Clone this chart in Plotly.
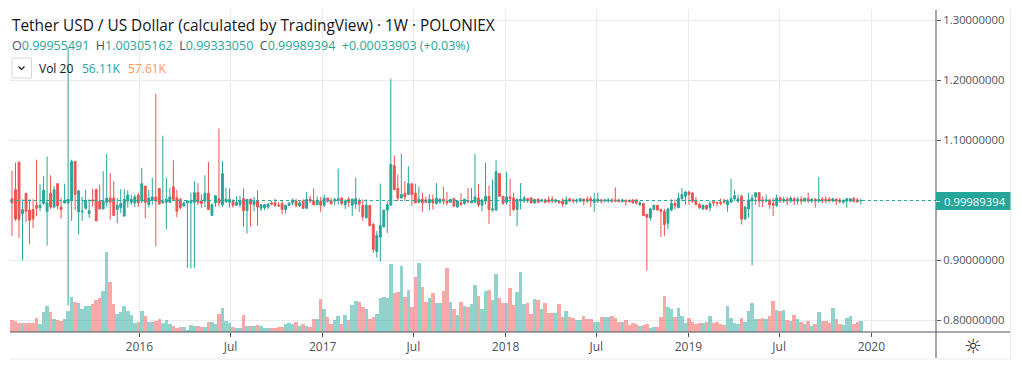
import pandas as pd
import plotly.graph_objects as go

WEEK_COUNT = 243
first_week = "2015-04-22"
title_text = "Tether USD / US Dollar (calculated by TradingView) · 1W · POLONIEX"
price_ticks = [0.8, 0.9, 1.0, 1.1, 1.2, 1.3]
time_ticks = ["2016-01-01", "2016-07-01", "2017-01-01", "2017-07-01", "2018-01-01", "2018-07-01", "2019-01-01", "2019-07-01", "2020-01-01"]
time_labels = ["2016", "Jul", "2017", "Jul", "2018", "Jul", "2019", "Jul", "2020"]

opens = [
1.003,1.018,1.064,.978,1.012,.984,.985,.992,.988,.995,
.982,1.012,.989,1.028,.989,.996,.996,1.000,1.065,.981,
.981,.987,.978,1.001,1.018,.999,.986,.997,1.004,1.004,
.985,.988,.974,.999,.997,.996,1.009,.999,1.024,.993,
1.000,1.006,1.020,.996,.997,.997,1.023,1.004,1.002,.991,
.996,.996,.997,1.013,.999,.999,1.012,.975,.996,1.003,
.993,.998,.997,.999,.992,.993,1.003,.983,1.002,.993,
1.000,.987,.988,.989,.996,.996,.992,.995,.985,.992,
.996,.999,.991,.999,.987,1.002,.999,.993,.999,.992,
1.004,.999,.999,1.000,1.004,.993,1.002,.992,.994,.999,
.992,.971,.992,.960,.915,.939,.956,.984,.992,1.058,
1.020,1.004,1.012,1.010,1.028,1.012,.997,1.002,1.001,.996,
1.002,.995,.997,1.002,.999,.997,1.003,.989,.996,.995,
1.000,.996,.997,1.004,.992,.999,1.007,.984,.984,1.045,
1.007,.997,1.006,1.004,.985,.999,.999,1.003,1.004,.996,
1.002,.999,1.001,1.001,1.002,.998,.999,.999,.994,1.003,
1.001,.999,.999,1.002,1.002,1.003,.997,.999,1.001,.999,
.999,1.001,1.001,1.001,.998,1.000,1.000,1.001,1.001,.993,
.995,.977,.971,.985,.992,.985,.982,.962,.984,.995,
.988,1.003,1.007,1.014,1.012,.999,.993,.986,.992,.988,
.998,.997,.997,.999,.993,.997,1.003,.999,1.007,.969,
.986,.999,1.006,1.013,1.001,.999,1.001,.995,.992,1.004,
.999,1.002,.999,1.003,.999,1.002,.999,1.003,.999,1.002,
.999,1.002,1.002,1.002,.999,1.002,1.001,.997,.999,.999,
1.003,1.001,.99955491]

highs = [
1.050,1.063,1.064,1.002,1.012,1.002,1.002,1.068,1.027,1.041,
1.073,1.042,1.024,1.028,1.004,1.028,1.254,1.068,1.065,1.018,
1.006,1.018,1.002,1.020,1.020,1.026,1.049,1.078,1.046,1.032,
1.004,1.019,1.019,1.017,1.010,1.010,1.013,1.054,1.024,1.018,
1.038,1.178,1.020,1.108,1.038,1.021,1.067,1.018,1.004,.998,
1.000,1.013,1.032,1.029,1.010,1.042,1.064,.995,1.008,1.120,
1.066,1.021,1.020,1.002,1.007,1.008,1.020,1.002,1.003,1.006,
1.017,.993,.994,.996,.999,1.003,.997,.999,.993,.996,
1.003,1.003,.999,1.002,1.014,1.008,1.020,1.007,1.006,1.010,
1.004,1.004,1.004,1.053,1.006,1.002,1.006,1.004,1.038,1.004,
1.002,1.002,.992,.963,.949,1.028,.984,.999,1.203,1.075,
1.043,1.078,1.032,1.057,1.028,1.028,1.023,1.013,1.006,1.010,
1.010,1.029,1.004,1.023,1.014,1.002,1.004,1.001,1.012,1.003,
1.021,1.021,1.078,1.027,1.002,1.063,1.025,1.035,1.067,1.045,
1.007,1.048,1.036,1.013,1.003,1.029,1.008,1.004,1.006,1.002,
1.004,1.002,1.003,1.007,1.007,1.003,1.000,1.004,1.007,1.003,
1.003,1.003,1.004,1.004,1.007,1.007,1.013,1.013,1.003,1.002,
1.004,1.004,1.022,1.002,1.003,1.002,1.002,1.002,1.002,.999,
.996,.977,.988,.993,.992,.986,.986,.988,1.002,1.002,
1.013,1.021,1.016,1.016,1.014,1.006,.996,.993,.993,.999,
.998,.998,1.003,1.003,1.002,1.036,1.017,1.010,1.010,.991,
1.013,1.010,1.013,1.013,1.007,1.010,1.003,1.004,1.010,1.007,
1.006,1.006,1.007,1.006,1.006,1.007,1.004,1.013,1.004,1.004,
1.039,1.006,1.007,1.006,1.004,1.004,1.004,1.002,1.004,1.003,
1.006,1.004,1.00305162]

lows = [
.941,.966,.937,.900,.964,.927,.954,.974,.982,.993,
.925,.986,.987,.985,.970,.995,.825,.966,.984,.943,
.966,.985,.971,.990,.966,.985,.985,.989,.968,.974,
.962,.979,.973,.988,.993,.989,.989,.995,.970,.988,
.993,.924,.993,.995,.952,.996,1.000,.972,.985,.989,
.888,.887,.888,.992,.988,.989,.985,.975,.989,.990,
.989,.996,.988,.988,.992,.988,.956,.945,.957,.982,
.958,.982,.984,.986,.992,.989,.989,.977,.978,.991,
.992,.988,.989,.986,.986,.996,.993,.993,.981,.989,
.996,.993,.992,.993,.992,.986,.989,.974,.986,.981,
.966,.971,.958,.913,.905,.898,.956,.946,.992,1.018,
.999,1.004,.999,1.010,.991,.996,.996,.981,.996,.984,
.985,.993,.995,.993,.992,.996,.989,.988,.991,.993,
.995,.996,.996,.989,.982,.993,.961,.981,.982,1.007,
.993,.993,.974,.982,.957,.985,.996,.996,.995,.995,
.995,.997,.995,.996,.996,.996,.995,.989,.993,.997,
.995,.995,.997,.992,.996,.989,.981,.996,.995,.997,
.996,.996,.997,.997,.997,.991,.997,.995,.993,.991,
.974,.883,.966,.984,.984,.939,.941,.952,.982,.985,
.987,.999,.993,.993,.996,.992,.986,.984,.984,.982,
.991,.990,.992,.995,.981,.996,.999,.996,.960,.968,
.971,.892,.993,.989,.989,.997,.986,.974,.989,.996,
.996,.992,.996,.992,.993,.993,.997,.996,.996,.988,
.996,.995,.995,.997,.997,.992,.995,.995,.988,.997,
.996,.996,.99333050]

closes = [
.996,.969,.968,.985,.982,.967,.969,.987,.992,1.017,
.996,.989,1.018,.991,.985,1.000,1.002,1.065,1.010,1.016,
.982,1.000,.983,.999,.966,.986,.999,1.004,.997,.975,
.992,.995,1.002,1.009,1.002,1.006,.996,1.028,.997,1.004,
1.006,.999,.994,.999,1.002,1.006,1.002,.982,.988,.996,
.999,.999,1.013,.997,.995,1.012,.985,.993,1.008,.996,
1.045,1.002,1.002,.992,.997,1.000,.983,1.002,.994,.999,
.989,.993,.993,.994,.994,.992,.991,.985,.992,.996,
1.001,.992,.996,.987,1.002,.999,.993,1.000,.992,1.004,
.999,.995,1.002,1.003,.995,.999,.997,1.002,1.003,.994,
.973,.992,.958,.918,.942,.958,.984,.993,1.060,1.018,
1.004,1.010,1.006,1.028,1.010,.996,1.002,.996,.997,1.002,
.996,1.004,1.002,.999,.996,1.002,.991,.999,.993,1.002,
.998,.999,1.006,.993,1.001,1.007,.985,.986,1.048,1.007,
.995,1.006,1.003,.985,1.002,1.002,1.004,1.001,.996,1.002,
.997,1.001,.997,.998,.999,1.001,.996,.994,1.001,.999,
.999,1.001,1.003,.999,.999,.999,1.002,1.002,.999,1.001,
1.001,.999,.999,.998,1.001,.998,.998,.996,.996,.996,
.975,.972,.986,.992,.984,.982,.960,.986,.995,.991,
1.004,1.010,1.014,1.010,.999,.993,.988,.992,.986,.995,
.996,.996,.995,.997,.999,1.003,1.008,1.003,.969,.989,
1.001,1.004,1.013,.999,.999,1.001,.993,.992,1.004,.999,
1.002,.999,1.004,.999,1.002,.999,1.004,.999,1.002,.999,
1.002,.999,.999,.999,1.003,.999,.998,1.000,1.003,1.003,
.999,.998,.99989394]

volumes_k = [
62,57,47,47,47,47,47,72,42,102,
132,102,67,58,57,65,107,177,152,147,
117,132,132,142,162,172,207,402,252,142,
92,102,132,107,87,47,52,107,82,52,
52,57,67,47,62,42,32,22,27,27,
12,37,32,32,27,27,52,52,42,92,
122,57,47,27,22,
20,87,32,32,32,37,32,22,22,22,
22,27,27,42,47,42,52,32,42,32,
27,67,67,167,117,77,42,62,82,42,
87,62,137,157,152,127,117,67,77,92,
172,177,172,342,197,202,332,177,212,127,
277,347,227,152,172,197,147,147,207,322,
152,117,87,152,132,127,142,237,182,
117,207,212,162,292,172,147,147,222,137,
202,302,142,147,92,167,162,117,147,97,
97,97,142,77,107,77,72,62,62,82,
67,67,52,52,77,77,77,82,72,52,
52,62,37,47,42,32,37,42,22,27,
27,77,182,127,117,77,122,82,47,72,
52,42,47,47,52,82,47,52,
42,37,132,72,47,42,72,52,107,147,
67,67,72,67,82,157,112,107,112,62,
57,87,67,52,42,57,32,42,102,57,
57,47,122,67,42,37,72,82,42,52,56.11]

assert all(len(a) == WEEK_COUNT for a in (opens, highs, lows, closes, volumes_k))

UP, DOWN = "#26a69a", "#ef5350"
TEXT, GRID, AXIS = "#4c525e", "#e9ecef", "#50535e"
FONT = "Open Sans, sans-serif"
W, H, L, T, R, B = 1022, 372, 10, 10, 936.5, 332
dates = pd.date_range(first_week, periods=WEEK_COUNT, freq="7D")

def px(x):
    return (x - L) / (R - L)
def py(y):
    return (B - y) / (B - T)

fig = go.Figure()
fig.add_bar(
    x=dates, y=volumes_k, yaxis="y",
    marker=dict(color=["rgba(38,166,154,0.5)" if c >= o else "rgba(239,83,80,0.5)" for o, c in zip(opens, closes)], line_width=0),
    hoverinfo="skip", showlegend=False,
)
fig.add_candlestick(
    x=dates, open=opens, high=highs, low=lows, close=closes, yaxis="y2",
    increasing=dict(line=dict(color=UP, width=1), fillcolor=UP),
    decreasing=dict(line=dict(color=DOWN, width=1), fillcolor=DOWN),
    showlegend=False, whiskerwidth=0,
)

def rect(x0, y0, x1, y1, **kw):
    return dict(type="rect", xref="paper", yref="paper", x0=px(x0), x1=px(x1), y0=py(y0), y1=py(y1), **kw)
def seg(x0, y0, x1, y1, color, width=1):
    return dict(type="line", xref="paper", yref="paper", x0=px(x0), x1=px(x1), y0=py(y0), y1=py(y1), line=dict(color=color, width=width))

shapes = [
    dict(type="line", xref="paper", yref="y2", x0=0, x1=1, y0=closes[-1], y1=closes[-1], line=dict(color=UP, width=1, dash="dot")),
    seg(R, T, R, 358, AXIS),
    seg(L, B, 1011, B, AXIS),
    seg(L, 359, 1011, 359, GRID),
    seg(1011, 10, 1011, 359, GRID),
    rect(936.5, 192, 1011, 210, fillcolor="#26a69a", line_width=0),
    seg(936.5, 201.5, 940.5, 201.5, "#ffffff"),
    rect(12, 58, 31.5, 78, line=dict(color="#d6d8e0", width=1), fillcolor="rgba(255,255,255,0)"),
    dict(type="path", xref="paper", yref="paper",
         path=f"M {px(18.5)} {py(66.5)} L {px(21.5)} {py(69.5)} L {px(24.5)} {py(66.5)}", line=dict(color="#131722", width=1.2)),
]

def note(x, y, text, size, color=TEXT, anchor="left", family=FONT):
    return dict(xref="paper", yref="paper", x=px(x), y=py(y), text=text, showarrow=False, xanchor=anchor, yanchor="middle",
                font=dict(family=family, size=size, color=color), borderpad=0, borderwidth=0)

def v(s):
    return f'<span style="color:{UP}">{s}</span>'

gap = "&nbsp;&nbsp;"
annotations = [
    note(12, 26, title_text, 15.4, "#131722"),
    note(12, 45.5, f"O{v('0.99955491')}{gap}H{v('1.00305162')}{gap}L{v('0.99333050')}{gap}C{v('0.99989394')}{gap}{v('+0.00033903 (+0.03%)')}", 12.5),
    note(39, 68, "Vol 20", 12, "#131722"),
    note(82, 68, "56.11K", 12, UP),
    note(128, 68, "57.61K", 12, "#ff9850"),
    note(945, 201, f"{closes[-1]:.8f}", 11.3, "#ffffff"),
    note(974, 345.5, "☼", 20, "#131722", "center", "DejaVu Sans"),
]

fig.update_layout(
    width=W, height=H, paper_bgcolor="#ffffff", plot_bgcolor="#ffffff",
    margin=dict(l=L, r=W - R, t=T, b=H - B, pad=0),
    bargap=0, boxgap=0.25, dragmode=False, showlegend=False, hovermode=False,
    font=dict(family=FONT, color=TEXT, size=12),
    xaxis=dict(
        type="date", range=["2015-04-18", "2020-05-09"], tickvals=time_ticks, ticktext=time_labels,
        showgrid=True, gridcolor=GRID, gridwidth=1, zeroline=False, showline=False,
        ticks="outside", ticklen=4, tickcolor=AXIS, tickfont=dict(size=12, color=TEXT),
        rangeslider=dict(visible=False),
    ),
    yaxis=dict(range=[0, 1610], visible=False, fixedrange=True),
    yaxis2=dict(
        overlaying="y", side="right", range=[0.7808, 1.3175], tickvals=price_ticks,
        ticktext=[f"{p:.8f}" for p in price_ticks], showgrid=True, gridcolor=GRID, gridwidth=1,
        zeroline=False, showline=False, ticks="outside", ticklen=4, tickcolor=AXIS,
        tickfont=dict(size=11.3, color=TEXT), fixedrange=True,
    ),
    shapes=shapes, annotations=annotations,
)
fig.write_html("out.html", config=dict(displayModeBar=False), post_script="document.documentElement.style.margin='0';document.body.style.margin='0';document.body.style.overflow='hidden';")
